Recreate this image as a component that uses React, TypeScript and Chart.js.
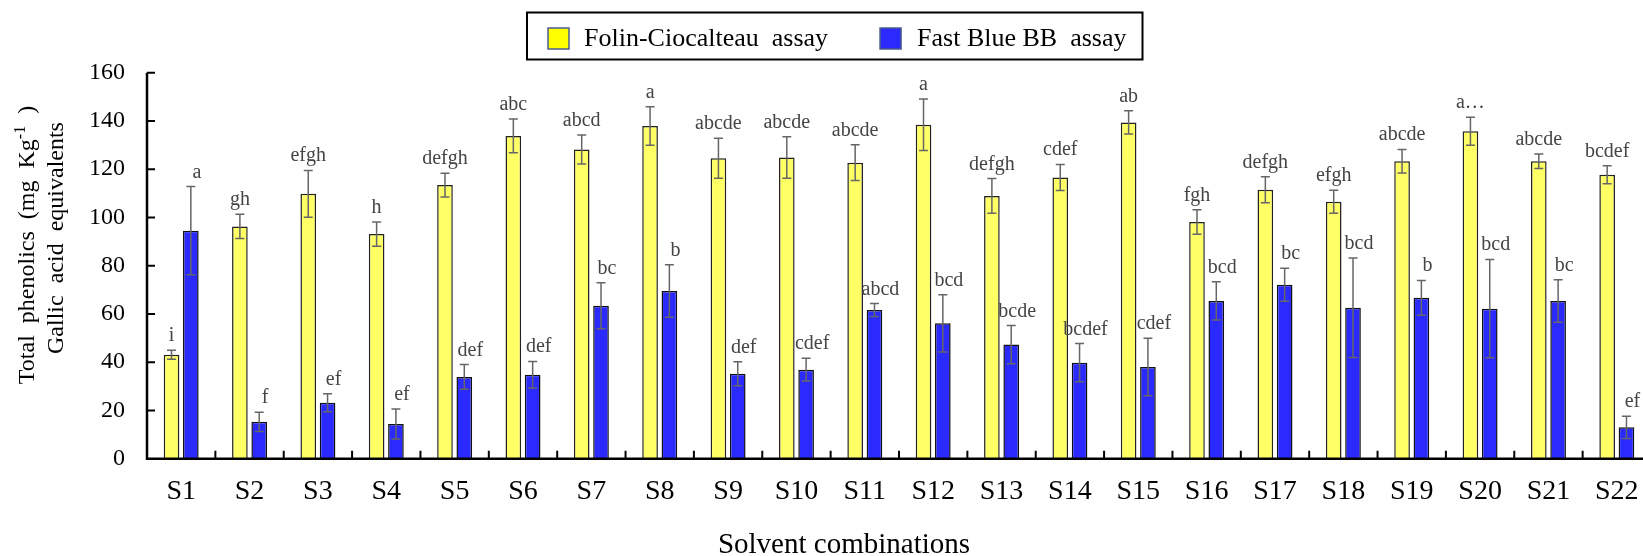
import React, { useEffect, useRef } from "react";
import { Chart, registerables } from "chart.js";

Chart.register(...registerables);

const categories = ["S1", "S2", "S3", "S4", "S5", "S6", "S7", "S8", "S9", "S10", "S11", "S12", "S13", "S14", "S15", "S16", "S17", "S18", "S19", "S20", "S21", "S22"];
const folinValues = [43.1, 96.3, 109.8, 93.1, 113.4, 133.8, 128.2, 137.9, 124.5, 124.9, 122.7, 138.4, 108.9, 116.6, 139.4, 98.1, 111.5, 106.5, 123.3, 135.7, 123.3, 117.7];
const folinErrors = [1.9, 5.0, 9.7, 5.0, 4.9, 7.0, 6.0, 8.0, 8.3, 8.6, 7.4, 10.7, 7.2, 5.4, 4.8, 5.1, 5.4, 4.8, 4.9, 5.8, 3.0, 3.7];
const fastBlueValues = [94.5, 15.3, 23.2, 14.4, 33.9, 34.8, 63.4, 69.5, 35.2, 36.9, 61.6, 56.1, 47.3, 39.8, 38.0, 65.4, 72.1, 62.6, 66.7, 62.2, 65.4, 13.0];
const fastBlueErrors = [18.3, 4.0, 3.7, 6.2, 5.1, 5.5, 9.5, 10.9, 5.0, 4.7, 2.7, 11.9, 7.9, 7.9, 11.9, 7.9, 6.8, 20.6, 7.2, 20.4, 8.8, 4.6];
const folinLetters = ["i", "gh", "efgh", "h", "defgh", "abc", "abcd", "a", "abcde", "abcde", "abcde", "a", "defgh", "cdef", "ab", "fgh", "defgh", "efgh", "abcde", "a…", "abcde", "bcdef"];
const fastBlueLetters = ["a", "f", "ef", "ef", "def", "def", "bc", "b", "def", "cdef", "abcd", "bcd", "bcde", "bcdef", "cdef", "bcd", "bc", "bcd", "b", "bcd", "bc", "ef"];
const seriesLabels = ["Folin-Ciocalteau  assay", "Fast Blue BB  assay"];
const yTickValues = [0, 20, 40, 60, 80, 100, 120, 140, 160];
const yTitleMain = "Total  phenolics  (mg  Kg";
const yTitleSup = "-1";
const yTitleEnd = "  )";
const yTitleSecond = "Gallic  acid  equivalents";
const xTitle = "Solvent combinations";

const SERIF = '"Liberation Serif", "Times New Roman", serif';
const CANVAS_W = 1660;
const CANVAS_H = 556;
const YELLOW = "#FFFF66";
const BLUE = "#2A2AFF";

const decorPlugin = {
  id: "decor",
  afterDatasetsDraw(chart: any) {
    const ctx = chart.ctx;
    const y = chart.scales.y;
    const errs = [folinErrors, fastBlueErrors];
    const letters = [folinLetters, fastBlueLetters];
    ctx.save();
    chart.data.datasets.forEach((ds: any, di: number) => {
      const meta = chart.getDatasetMeta(di);
      meta.data.forEach((bar: any, i: number) => {
        const v = ds.data[i];
        const e = errs[di][i];
        const yt = y.getPixelForValue(v + e);
        const yb = y.getPixelForValue(v - e);
        ctx.strokeStyle = "#666";
        ctx.lineWidth = 1.5;
        ctx.beginPath();
        ctx.moveTo(bar.x, yt);
        ctx.lineTo(bar.x, yb);
        ctx.moveTo(bar.x - 4.5, yt);
        ctx.lineTo(bar.x + 4.5, yt);
        ctx.moveTo(bar.x - 4.5, yb);
        ctx.lineTo(bar.x + 4.5, yb);
        ctx.stroke();
        ctx.fillStyle = "#444";
        ctx.font = `20px ${SERIF}`;
        ctx.textAlign = "center";
        ctx.textBaseline = "alphabetic";
        ctx.fillText(letters[di][i], bar.x + (di === 1 ? 6 : 0), yt - 9);
      });
    });
    ctx.restore();
  },
  afterDraw(chart: any) {
    const ctx = chart.ctx;
    const x = chart.scales.x;
    const y = chart.scales.y;
    const area = chart.chartArea;
    ctx.save();
    // axes
    ctx.strokeStyle = "#000";
    ctx.lineWidth = 2.5;
    ctx.beginPath();
    ctx.moveTo(area.left, area.top);
    ctx.lineTo(area.left, area.bottom);
    ctx.lineTo(area.right, area.bottom);
    ctx.stroke();
    // inward ticks
    ctx.lineWidth = 2;
    ctx.beginPath();
    yTickValues.forEach((v) => {
      if (v === 0) return;
      const py = y.getPixelForValue(v);
      ctx.moveTo(area.left, py);
      ctx.lineTo(area.left + 8, py);
    });
    for (let i = 1; i <= categories.length; i++) {
      const px = i < categories.length
        ? (x.getPixelForValue(i - 1) + x.getPixelForValue(i)) / 2
        : area.right;
      ctx.moveTo(px, area.bottom);
      ctx.lineTo(px, area.bottom - 8);
    }
    ctx.stroke();

    // legend
    ctx.font = `26px ${SERIF}`;
    ctx.textBaseline = "middle";
    ctx.textAlign = "left";
    const w1 = ctx.measureText(seriesLabels[0]).width;
    const w2 = ctx.measureText(seriesLabels[1]).width;
    const boxLeft = 527;
    const boxTop = 12.5;
    const boxH = 47;
    const sw1 = 548;
    const t1 = 584;
    const sw2 = t1 + w1 + 52;
    const t2 = sw2 + 21 + 16;
    const boxRight = t2 + w2 + 16;
    ctx.fillStyle = "#FFFF00";
    ctx.fillRect(sw1, 28, 21, 21);
    ctx.fillStyle = BLUE;
    ctx.fillRect(sw2, 28, 21, 21);
    ctx.strokeStyle = "#4A5C8C";
    ctx.lineWidth = 1.5;
    ctx.strokeRect(sw1, 28, 21, 21);
    ctx.strokeRect(sw2, 28, 21, 21);
    ctx.fillStyle = "#000";
    ctx.fillText(seriesLabels[0], t1, 39);
    ctx.fillText(seriesLabels[1], t2, 39);
    ctx.strokeStyle = "#000";
    ctx.lineWidth = 2;
    ctx.strokeRect(boxLeft, boxTop, boxRight - boxLeft, boxH);

    // y title
    ctx.textBaseline = "alphabetic";
    ctx.font = `24px ${SERIF}`;
    const a = ctx.measureText(yTitleMain).width;
    const c = ctx.measureText(yTitleEnd).width;
    ctx.font = `16px ${SERIF}`;
    const b = ctx.measureText(yTitleSup).width;
    const total = a + b + c;
    ctx.save();
    ctx.translate(34, 245);
    ctx.rotate(-Math.PI / 2);
    ctx.textAlign = "left";
    ctx.font = `24px ${SERIF}`;
    ctx.fillText(yTitleMain, -total / 2, 0);
    ctx.font = `16px ${SERIF}`;
    ctx.fillText(yTitleSup, -total / 2 + a, -9);
    ctx.font = `24px ${SERIF}`;
    ctx.fillText(yTitleEnd, -total / 2 + a + b, 0);
    ctx.restore();
    ctx.save();
    ctx.translate(63, 238);
    ctx.rotate(-Math.PI / 2);
    ctx.textAlign = "center";
    ctx.font = `24px ${SERIF}`;
    ctx.fillText(yTitleSecond, 0, 0);
    ctx.restore();

    // x title
    ctx.textAlign = "center";
    ctx.font = `29px ${SERIF}`;
    ctx.fillText(xTitle, 844, 553);
    ctx.restore();
  },
};

export default function App() {
  const ref = useRef<HTMLCanvasElement | null>(null);
  useEffect(() => {
    if (!ref.current) return;
    const chart = new Chart(ref.current, {
      type: "bar",
      data: {
        labels: categories,
        datasets: [
          {
            label: seriesLabels[0],
            data: folinValues,
            backgroundColor: YELLOW,
            borderColor: "#222",
            borderWidth: 1.5,
            categoryPercentage: 0.565,
            barPercentage: 0.81,
          },
          {
            label: seriesLabels[1],
            data: fastBlueValues,
            backgroundColor: BLUE,
            borderColor: "#111",
            borderWidth: 1.5,
            categoryPercentage: 0.565,
            barPercentage: 0.81,
          },
        ],
      },
      options: {
        responsive: false,
        devicePixelRatio: 1,
        animation: false,
        layout: { padding: { top: 72.7, right: 9, bottom: 0, left: 0 } },
        plugins: { legend: { display: false }, tooltip: { enabled: false } },
        scales: {
          x: {
            type: "category",
            grid: { display: false },
            border: { display: false },
            ticks: {
              font: { family: SERIF, size: 28 },
              color: "#000",
              padding: 8,
              maxRotation: 0,
              autoSkip: false,
            },
            afterFit: (s: any) => {
              s.height = CANVAS_H - 458.7;
            },
          },
          y: {
            min: 0,
            max: 160,
            grid: { display: false },
            border: { display: false },
            ticks: {
              stepSize: 20,
              font: { family: SERIF, size: 24 },
              color: "#000",
              padding: 14,
            },
            afterFit: (s: any) => {
              s.width = 147;
            },
          },
        },
      },
      plugins: [decorPlugin],
    });
    return () => chart.destroy();
  }, []);
  return (
    <div style={{ position: "fixed", left: 0, top: 0, width: 1643, height: 556, overflow: "hidden", background: "#fff" }}>
      <canvas ref={ref} width={CANVAS_W} height={CANVAS_H} style={{ display: "block", width: CANVAS_W, height: CANVAS_H }} />
    </div>
  );
}
